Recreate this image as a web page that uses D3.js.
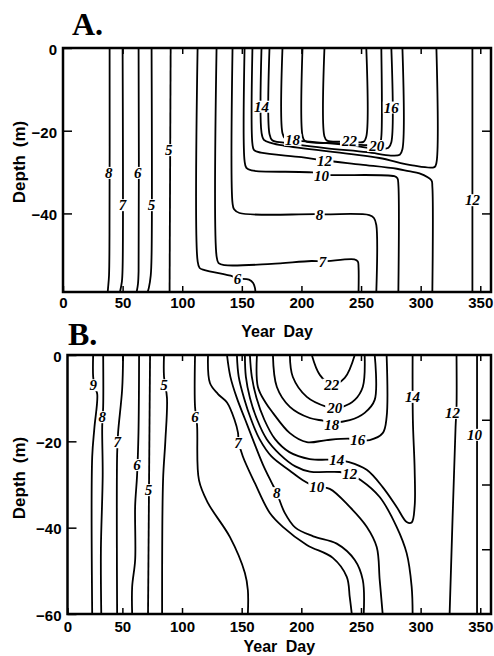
<!DOCTYPE html>
<html>
<head>
<meta charset="utf-8">
<script src="https://cdn.jsdelivr.net/npm/d3@7"></script>
<style>
body { margin: 0; background: #fff; }
svg { display: block; }
</style>
</head>
<body>
<div id="chart"></div>
<script>
// axis ticks
var dayTicks = [0, 50, 100, 150, 200, 250, 300, 350];
var depthTicksA = [0, -20, -40];
var depthTicksB = [0, -20, -40, -60];
var rightTicksA = [-20, -40];
var rightTicksB = [-15, -30, -45];

// panel A isotherms, each point is [year day, depth m]
var a8 = [[39.1, 0], [39.0, -45], [38.6, -55], [37.8, -58], [37.5, -59]];
var a7 = [[50, 0], [50, -53], [49.4, -56.5], [47.8, -59]];
var a6 = [[63.4, 0], [63.4, -54], [62.9, -57], [61.8, -59]];
var a5 = [[74.3, 0], [74.3, -50], [73.6, -55], [72, -58], [71, -59]];
var a5b = [[90.3, 0], [89.4, -59]];
var a6b = [[112.9, 0], [112.9, -51.5], [114.6, -53.2], [118.8, -53.7], [142.2, -55.2], [146.4, -55.7], [156, -56], [159.5, -56.8], [161, -58], [161.4, -59]];
var a7b = [[128.8, 0], [128.8, -50.3], [130.5, -52], [135.5, -52.5], [175, -52.2], [208.4, -51.5], [217.6, -51.6], [244.4, -51.1], [247.3, -51.6], [247.9, -53], [247.9, -59]];
var a8b = [[142.2, 0], [142.2, -37.5], [143.5, -39], [148, -39.9], [215.1, -40.2], [256.9, -40.4], [260.8, -41.1], [262.8, -42.8], [262.8, -59]];
var a10 = [[152.3, 0], [152.3, -27.3], [153.8, -29], [158.1, -29.6], [209.2, -30.1], [216.8, -30.6], [277.9, -31], [280.5, -31.5], [281.3, -33], [281.3, -59]];
var a12 = [[158.9, 0], [158.9, -23.2], [160.3, -24.7], [166, -25.3], [200, -26.4], [219.3, -27.2], [250, -28.2], [280, -29.2], [290, -29.8], [299, -30.3], [309, -32], [309.8, -33.5], [309.8, -59]];
var a14 = [[166.5, 0], [166.5, -20.4], [168.5, -22.2], [175, -23], [185, -23.6], [240, -25.6], [265.4, -26.6], [293.1, -28.4], [311.5, -28.8], [313.2, -27.8], [313.2, 0]];
var a16 = [[173.2, 0], [173.2, -20.8], [175.5, -22.3], [185, -22.9], [220, -24.2], [255, -25.2], [275, -26], [282.5, -25.8], [284.7, -24.5], [284.7, 0]];
var a18 = [[184.1, 0], [184.1, -20.6], [186.5, -22], [192.5, -22.3], [240, -23.5], [265, -24.4], [273, -24.1], [275.4, -22.8], [275.4, 0]];
var a20 = [[200.9, 0], [200.9, -21.2], [203, -22.5], [230, -23], [255, -23.5], [263.1, -23.6], [266, -23], [267, -21.5], [267, 0]];
var a22 = [[219.3, 0], [219.3, -21.4], [221.5, -22.4], [240.3, -22.6], [252, -22.7], [254.4, -21.4], [254.4, 0]];
var a12r = [[343.4, 0], [343.4, -59]];
var linesA = [a8, a7, a6, a5, a5b, a6b, a7b, a8b, a10, a12, a14, a16, a18, a20, a22, a12r];

// label text, day, depth
var labelsA = [["8", 38.3, -30.2], ["7", 50, -38], ["6", 62.6, -30.2], ["5", 74.3, -38], ["5", 88.6, -24.7],
    ["6", 146.4, -55.7], ["7", 217.6, -51.8], ["8", 215.1, -40.4], ["10", 216.8, -30.9], ["12", 219.3, -27.3],
    ["14", 166.5, -14.2], ["18", 192.5, -22.2], ["22", 240.3, -22.4], ["20", 263.1, -23.7], ["16", 275.4, -14.4],
    ["12", 343.4, -36.8]];

// panel B isotherms
var b9 = [[25.5, 0], [25.5, -5], [26.8, -7.5], [28.9, -9], [26.5, -17], [24.7, -23.6], [24.7, -60]];
var b8 = [[33.9, 0], [33.9, -12], [33.1, -16.5], [33.5, -28], [32, -45], [32.3, -60]];
var b7 = [[50.6, 0], [49.8, -8], [46.4, -18], [45.6, -23], [45.6, -60]];
var b6 = [[64, 0], [63.5, -18], [62.3, -28], [60.7, -35], [60.7, -47.5], [58.2, -53.7], [58.2, -60]];
var b5 = [[73.2, 0], [71.5, -60]];
var b5b = [[84.9, 0], [84.9, -5], [87.4, -10], [86, -20], [84.1, -29], [83.3, -60]];
var b6b = [[110.9, 0], [110.9, -12], [112.6, -16.2], [114.2, -29], [121.8, -34.3], [140.2, -42.2], [152.7, -50.5], [155.2, -54.5], [155.2, -60]];
var b7b = [[121.8, 0], [123.4, -6.5], [130, -9], [137.7, -11], [144, -15], [146.9, -18], [147.5, -20.2], [151, -23.5], [161.1, -29.7], [173.6, -36.6], [184.5, -39.8], [204.6, -44], [226.4, -47], [238.1, -51.4], [240.6, -56.1], [242.3, -60]];
var b8b = [[137.7, 0], [140.5, -5], [146, -10], [153, -15], [160, -20], [168, -25.5], [175, -29.5], [179.5, -32], [186, -36.5], [195, -40], [210, -42], [229.7, -43.7], [244.8, -47.5], [251.5, -52.1], [252.3, -60]];
var b10 = [[146, 0], [147.5, -5], [152, -10], [158, -15], [165, -19.5], [175, -23.5], [190.4, -26.8], [201.3, -29], [213, -30.6], [223.8, -31], [240.6, -35.2], [254.8, -39.8], [263.2, -44.5], [265.7, -52.1], [268.2, -60]];
var b12 = [[152.7, 0], [153.5, -5], [157, -10], [163, -15], [171, -19.5], [182, -23], [195, -25.8], [207.1, -27], [232, -27.1], [240.6, -27.6], [250, -29], [265.7, -32.9], [279.9, -39.8], [288.3, -45.9], [292.5, -53.7], [293.3, -60]];
var b14 = [[156.9, 0], [158.5, -5], [162.5, -10], [169, -15], [178, -19.5], [190, -22.5], [207.1, -24.1], [229.7, -24.3], [240, -24.8], [254.8, -26.6], [268.2, -30.6], [279.9, -35.2], [288.3, -38.7], [292.5, -38.8], [295, -35], [295, -26.6], [293.5, -15], [293.3, 0]];
var b16 = [[162.8, 0], [163.6, -7.4], [170, -11], [176.2, -13.4], [190.4, -18.1], [204.6, -20.2], [221.3, -19.7], [240.6, -19.4], [247.3, -19.7], [257.3, -19.7], [268.2, -18.1], [271.5, -14.4], [271.5, 0]];
var b18 = [[176.2, 0], [179.5, -7.4], [190.4, -12], [207.1, -14.6], [218, -15.2], [225.5, -15.6], [240.6, -15.1], [253.1, -13.4], [261.5, -10.4], [261.5, 0]];
var b20 = [[190.4, 0], [192.9, -5.1], [204.6, -9.7], [221.3, -12], [228, -12.3], [234.7, -12], [244.8, -10.4], [251.5, -7.4], [253.1, 0]];
var b22 = [[208.8, 0], [215.5, -4.6], [225.5, -6.9], [236.4, -5.3], [244.8, 0]];
var b12r = [[330.1, 0], [330.1, -12], [329.3, -16.7], [324.3, -60]];
var b10r = [[347.3, 0], [347.3, -60]];
var linesB = [b9, b8, b7, b6, b5, b5b, b6b, b7b, b8b, b10, b12, b14, b16, b18, b20, b22, b12r, b10r];

var labelsB = [["9", 25.5, -7], ["8", 33.1, -14.4], ["7", 45.6, -20.2], ["6", 62.3, -25.5], ["5", 84.9, -7],
    ["5", 71.8, -31.3], ["6", 110.9, -14.4], ["7", 146.9, -20.4], ["8", 179.5, -32], ["10", 213, -30.6],
    ["12", 240.6, -27.5], ["14", 229.7, -24.3], ["16", 247.3, -19.7], ["18", 225.5, -16.2], ["20", 228, -12.3],
    ["22", 225.5, -6.9], ["14", 293.3, -9.7], ["12", 326.8, -13.4], ["10", 345.2, -18.5]];

var width = 494, height = 656;
var sans = "'Liberation Sans', Arial, sans-serif";

var svg = d3.select("#chart").append("svg")
    .attr("width", width)
    .attr("height", height);

// scales
var xA = d3.scaleLinear().domain([0, 359]).range([63, 491]);
var yA = d3.scaleLinear().domain([0, -59]).range([48, 292]);
var xB = d3.scaleLinear().domain([4, 359]).range([67.5, 491]).clamp(true);
var yB = d3.scaleLinear().domain([0, -60]).range([355, 614]);

drawPanel("A", xA, yA, linesA, labelsA, depthTicksA, rightTicksA, 5, 45, 162, [72, 35]);
drawPanel("B", xB, yB, linesB, labelsB, depthTicksB, rightTicksB, 7, 38, 478, [68, 345]);

function drawPanel(name, x, y, lines, labels, yTicks, rTicks, xPad, titleGap, depthY, letterPos) {
    var g = svg.append("g");
    var x0 = x.range()[0], x1 = x.range()[1];
    var y0 = y.range()[0], y1 = y.range()[1];

    g.append("clipPath").attr("id", "clip" + name)
        .append("rect")
        .attr("x", x0).attr("y", y0)
        .attr("width", x1 - x0).attr("height", y1 - y0);

    var line = d3.line()
        .x(function(d) { return x(d[0]); })
        .y(function(d) { return y(d[1]); })
        .curve(d3.curveCatmullRom.alpha(0.5));

    g.append("g").attr("clip-path", "url(#clip" + name + ")")
        .selectAll("path")
        .data(lines)
        .enter()
        .append("path")
        .attr("d", line)
        .attr("fill", "none")
        .attr("stroke", "#000")
        .attr("stroke-width", 1.8)
        .attr("stroke-linejoin", "round");

    // contour labels with a white patch behind
    var lab = g.append("g").selectAll("g")
        .data(labels)
        .enter()
        .append("g")
        .attr("transform", function(d) { return "translate(" + x(d[1]) + "," + y(d[2]) + ")"; });
    lab.append("rect").attr("fill", "#fff");
    lab.append("text")
        .text(function(d) { return d[0]; })
        .attr("text-anchor", "middle")
        .attr("dy", "0.35em")
        .style("font", "italic bold 15px 'Liberation Serif', 'Times New Roman', serif");
    lab.each(function() {
        var b = d3.select(this).select("text").node().getBBox();
        d3.select(this).select("rect")
            .attr("x", b.x - 1).attr("width", b.width + 2)
            .attr("y", -6).attr("height", 12);
    });

    // axes, ticks pointing inward
    g.append("g")
        .attr("transform", "translate(0," + y1 + ")")
        .call(d3.axisBottom(x).tickValues(dayTicks).tickSize(-6).tickSizeOuter(0).tickPadding(xPad));
    var left = g.append("g")
        .attr("transform", "translate(" + x0 + ",0)")
        .call(d3.axisLeft(y).tickValues(yTicks).tickSize(-9).tickSizeOuter(0).tickPadding(6));
    g.append("g")
        .attr("transform", "translate(0," + y0 + ")")
        .call(d3.axisTop(x).tickValues(dayTicks.slice(1)).tickSize(-6).tickSizeOuter(0).tickFormat(""));
    g.append("g")
        .attr("transform", "translate(" + x1 + ",0)")
        .call(d3.axisRight(y).tickValues(rTicks).tickSize(-9).tickSizeOuter(0).tickFormat(""));

    g.selectAll(".domain").remove();
    g.selectAll(".tick line").attr("stroke", "#000").attr("stroke-width", 1.5);
    g.selectAll(".tick text")
        .attr("fill", "#000")
        .style("font", "bold 15px " + sans);
    left.selectAll(".tick text").attr("dy", "0.42em");

    g.append("rect")
        .attr("x", x0).attr("y", y0)
        .attr("width", x1 - x0).attr("height", y1 - y0)
        .attr("fill", "none")
        .attr("stroke", "#000")
        .attr("stroke-width", 2.5);

    g.append("text")
        .attr("x", (x0 + x1) / 2)
        .attr("y", y1 + titleGap)
        .attr("text-anchor", "middle")
        .style("font", "bold 16px " + sans)
        .style("word-spacing", "4px")
        .text("Year Day");

    g.append("text")
        .attr("transform", "translate(25," + depthY + ") rotate(-90)")
        .attr("text-anchor", "middle")
        .style("font", "bold 17px " + sans)
        .style("word-spacing", "3px")
        .text("Depth (m)");

    g.append("text")
        .attr("x", letterPos[0])
        .attr("y", letterPos[1])
        .style("font", "bold 32px 'Liberation Serif', 'Times New Roman', serif")
        .text(name + ".");
}
</script>
</body>
</html>
